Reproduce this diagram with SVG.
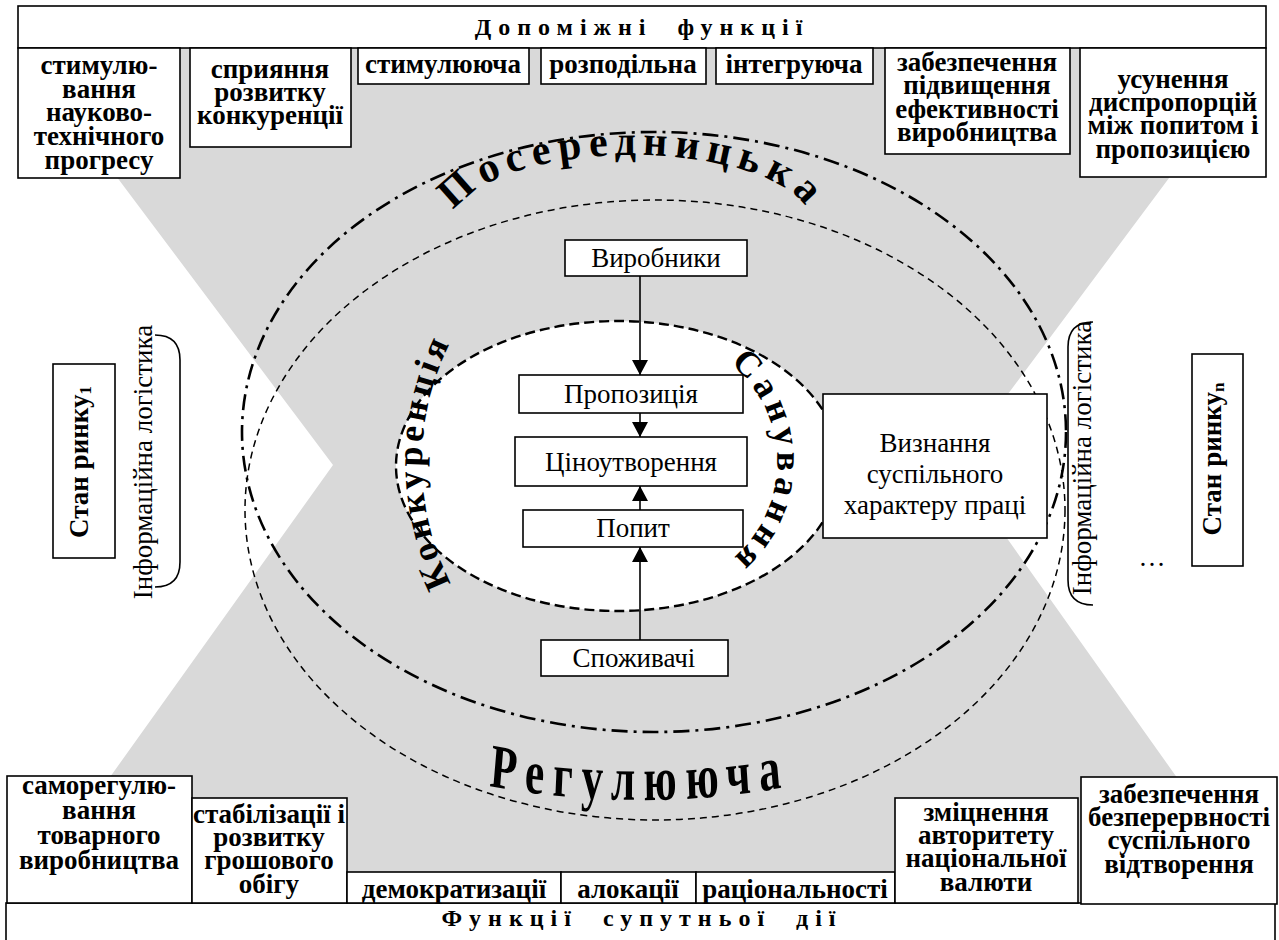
<svg xmlns="http://www.w3.org/2000/svg" width="1279" height="940" viewBox="0 0 1279 940">
<defs>
<style>
.bx{fill:#fff;stroke:#000;stroke-width:1.6}
.b{font-family:"Liberation Serif","Times New Roman",serif;font-weight:bold;font-size:27px;text-anchor:middle;fill:#000}
.r{font-family:"Liberation Serif","Times New Roman",serif;font-size:27px;text-anchor:middle;fill:#000}
.hd{font-family:"Liberation Serif","Times New Roman",serif;font-weight:bold;font-size:24px;text-anchor:middle;letter-spacing:7px;word-spacing:12px;fill:#000}
.cv{font-family:"Liberation Serif","Times New Roman",serif;font-weight:bold;fill:#000}
.ar{stroke:#000;stroke-width:1.6;fill:none;marker-end:url(#ah)}
.br{stroke:#000;stroke-width:1.6;fill:none}
</style>
<marker id="ah" markerUnits="userSpaceOnUse" markerWidth="16" markerHeight="16" refX="15" refY="8" orient="auto"><path d="M0,0 L15,8 L0,16 z" fill="#000"/></marker>
<path id="pPos" d="M466.2,252.2 A180,70 0 0 1 632,155 A180,70 0 0 1 797.8,252.2"/>
<path id="pReg" d="M-428,696 A428,104 0 0 0 428,696"/>
<path id="pKon" d="M484.7,634.3 A268,268 0 0 1 484.7,289.7"/>
<path id="pSan" d="M713.5,352 A127,127 0 0 1 713.5,572"/>
</defs>
<rect x="0" y="0" width="1279" height="940" fill="#fff"/>
<polygon id="bg" points="20,48 1266,48 955,465 1266,903 20,903 333,465" fill="#d9d9d9"/>
<g id="outer-ellipses" fill="none" stroke="#000">
<ellipse cx="654" cy="432" rx="412" ry="300" stroke-width="2.6" stroke-dasharray="16 6 3 6"/>
<ellipse cx="655" cy="510" rx="410" ry="310" stroke-width="1.5" stroke-dasharray="7 5"/>
</g>
<ellipse id="inner" cx="618" cy="466" rx="222" ry="145" fill="#fff" stroke="#000" stroke-width="2.4" stroke-dasharray="10 5"/>
<g id="curved-labels">
<text class="cv" font-size="42" letter-spacing="7"><textPath href="#pPos" startOffset="50%" text-anchor="middle">Посередницька</textPath></text>
<g transform="translate(640,0) scale(0.7,1)"><text class="cv" font-size="62" letter-spacing="13"><textPath href="#pReg" startOffset="50%" text-anchor="middle">Регулююча</textPath></text></g>
<text class="cv" font-size="36" letter-spacing="4"><textPath href="#pKon" startOffset="50%" text-anchor="middle">Конкуренція</textPath></text>
<text class="cv" font-size="36" letter-spacing="5"><textPath href="#pSan" startOffset="50%" text-anchor="middle">Санування</textPath></text>
</g>
<g id="top-header"><rect class="bx" x="18" y="6" width="1248" height="42"/><text class="hd" x="642" y="35">Допоміжні функції</text></g>
<g id="t1"><rect class="bx" x="18" y="48" width="162" height="130"/><text class="b"><tspan x="99" y="74">стимулю-</tspan><tspan x="99" y="98">вання</tspan><tspan x="99" y="121">науково-</tspan><tspan x="99" y="145">технічного</tspan><tspan x="99" y="169">прогресу</tspan></text></g>
<g id="t2"><rect class="bx" x="190" y="48" width="161" height="99"/><text class="b"><tspan x="270" y="78">сприяння</tspan><tspan x="270" y="101">розвитку</tspan><tspan x="270" y="124">конкуренції</tspan></text></g>
<g id="t3"><rect class="bx" x="358" y="48" width="171" height="36"/><text class="b" x="443" y="73">стимулююча</text></g>
<g id="t4"><rect class="bx" x="541" y="48" width="165" height="36"/><text class="b" x="623" y="73">розподільна</text></g>
<g id="t5"><rect class="bx" x="716" y="48" width="157" height="36"/><text class="b" x="794" y="73">інтегруюча</text></g>
<g id="t6"><rect class="bx" x="885" y="48" width="185" height="106"/><text class="b"><tspan x="977" y="71">забезпечення</tspan><tspan x="977" y="94">підвищення</tspan><tspan x="977" y="118">ефективності</tspan><tspan x="977" y="141">виробництва</tspan></text></g>
<g id="t7"><rect class="bx" x="1080" y="48" width="186" height="129"/><text class="b"><tspan x="1173" y="88">усунення</tspan><tspan x="1173" y="111">диспропорцій</tspan><tspan x="1173" y="134">між попитом і</tspan><tspan x="1173" y="158">пропозицією</tspan></text></g>
<g id="bottom-header"><rect class="bx" x="6" y="903" width="1269" height="40"/><text class="hd" x="642" y="926" letter-spacing="8">Функції супутньої дії</text></g>
<g id="b1"><rect class="bx" x="7" y="776" width="185" height="127"/><text class="b"><tspan x="99" y="794">саморегулю-</tspan><tspan x="99" y="819">вання</tspan><tspan x="99" y="844">товарного</tspan><tspan x="99" y="869">виробництва</tspan></text></g>
<g id="b2"><rect class="bx" x="192" y="798" width="155" height="105"/><text class="b"><tspan x="269" y="823">стабілізації і</tspan><tspan x="269" y="846">розвитку</tspan><tspan x="269" y="869">грошового</tspan><tspan x="269" y="893">обігу</tspan></text></g>
<g id="b3"><rect class="bx" x="347" y="872" width="214" height="31"/><text class="b" x="454" y="898">демократизації</text></g>
<g id="b4"><rect class="bx" x="561" y="872" width="135" height="31"/><text class="b" x="628" y="898">алокації</text></g>
<g id="b5"><rect class="bx" x="696" y="872" width="199" height="31"/><text class="b" x="795" y="898">раціональності</text></g>
<g id="b6"><rect class="bx" x="895" y="798" width="183" height="105"/><text class="b"><tspan x="986" y="821">зміцнення</tspan><tspan x="986" y="844">авторитету</tspan><tspan x="986" y="867">національної</tspan><tspan x="986" y="891">валюти</tspan></text></g>
<g id="b7"><rect class="bx" x="1081" y="777" width="196" height="127"/><text class="b"><tspan x="1179" y="803">забезпечення</tspan><tspan x="1179" y="826">безперервності</tspan><tspan x="1179" y="849">суспільного</tspan><tspan x="1179" y="873">відтворення</tspan></text></g>
<g id="market1"><rect class="bx" x="53" y="364" width="62" height="194"/><text class="b" font-size="30" transform="translate(88,462) rotate(-90)">Стан ринку<tspan font-size="17" dy="3">1</tspan></text></g>
<g id="logistics1"><text class="r" font-size="26" transform="translate(152,462) rotate(-90)">Інформаційна логістика</text><path class="br" d="M155,335 C172,335 180,343 180,360 L180,562 C180,579 172,587 155,587"/></g>
<g id="marketn"><rect class="bx" x="1192" y="354" width="51" height="212"/><text class="b" font-size="30" transform="translate(1221,459) rotate(-90)">Стан ринку<tspan font-size="17" dy="3">n</tspan></text></g>
<g id="logisticsn"><text class="r" font-size="26" transform="translate(1091,458) rotate(-90)">Інформаційна логістика</text><path class="br" d="M1093,322 C1076,322 1068,330 1068,347 L1068,580 C1068,597 1076,605 1093,605"/></g>
<text id="dots" class="r" x="1152" y="566" font-size="22">…</text>
<g id="producers"><rect class="bx" x="565" y="240" width="182" height="36"/><text class="r" x="656" y="267">Виробники</text></g>
<g id="supply"><rect class="bx" x="519" y="375" width="224" height="38"/><text class="r" x="631" y="403">Пропозиція</text></g>
<g id="pricing"><rect class="bx" x="515" y="437" width="232" height="49"/><text class="r" x="631" y="471">Ціноутворення</text></g>
<g id="demand"><rect class="bx" x="523" y="510" width="220" height="37"/><text class="r" x="633" y="537">Попит</text></g>
<g id="consumers"><rect class="bx" x="541" y="640" width="187" height="36"/><text class="r" x="634" y="667">Споживачі</text></g>
<g id="recognition"><rect class="bx" x="823" y="394" width="224" height="144"/><text class="r"><tspan x="935" y="452">Визнання</tspan><tspan x="935" y="483">суспільного</tspan><tspan x="935" y="514">характеру праці</tspan></text></g>
<g id="connectors">
<path class="ar" d="M640,276 V375"/>
<path class="ar" d="M640,413 V437"/>
<path class="ar" d="M640,510 V486"/>
<path class="ar" d="M640,640 V547"/>
</g>
</svg>
